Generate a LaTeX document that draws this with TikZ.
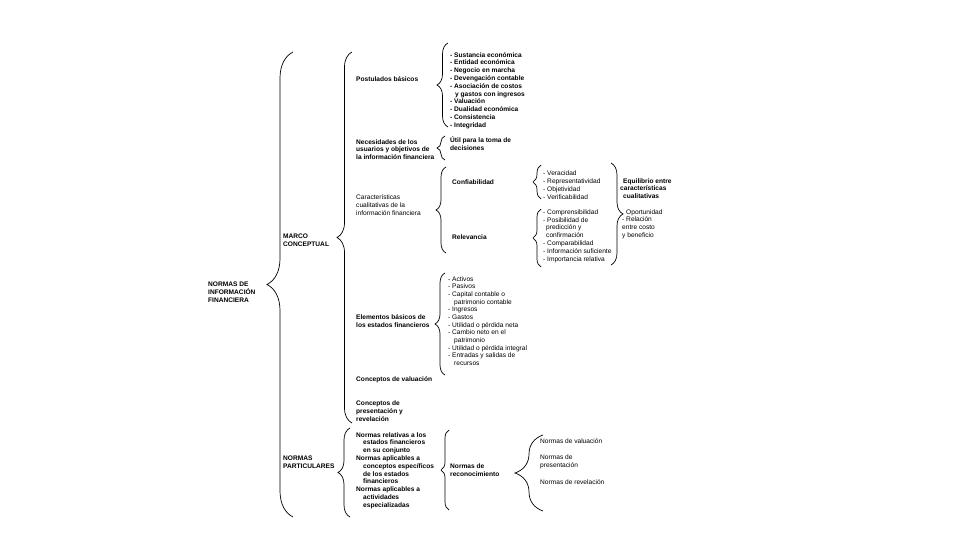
\documentclass[tikz,border=0pt]{standalone}
\usepackage{fontspec}
\setmainfont{Liberation Sans}
\usepackage{tikz}
\usetikzlibrary{decorations.pathreplacing}

\begin{document}
\begin{tikzpicture}[x=1pt,y=-1pt,
  txt/.style={inner sep=0pt,anchor=west,align=left,font=\fontsize{6.6}{7.8}\selectfont\bfseries},
  txtn/.style={txt,font=\fontsize{6.6}{7.8}\selectfont},
  brc/.style={decorate,decoration={brace,amplitude=#1},line width=.7pt}]
\fill[white](0,0)rectangle(960,540);
\useasboundingbox(0,0)rectangle(960,540);
% textos
\node[txt](nif) at (208,292){NORMAS DE\\INFORMACIÓN\\FINANCIERA};
\node[txt](marco) at (283,240.5){MARCO\\CONCEPTUAL};
\node[txt](partic) at (283,462){NORMAS\\PARTICULARES};
\node[txt](postul) at (356,79){Postulados básicos};
\node[txt](postitems) at (450,90.5){- Sustancia económica\\- Entidad económica\\- Negocio en marcha\\- Devengación contable\\- Asociación de costos\\\hspace*{5pt}y gastos con ingresos\\- Valuación\\- Dualidad económica\\- Consistencia\\- Integridad};
\node[txt](necesid) at (356,149.5){Necesidades de los\\usuarios y objetivos de\\la información financiera};
\node[txt](util) at (450,144){Útil para la toma de\\decisiones};
\node[txtn](caract) at (356,205){Características\\cualitativas de la\\información financiera};
\node[txt](confiab) at (452,182){Confiabilidad};
\node[txt](relev) at (452,237){Relevancia};
\node[txtn](confitems) at (543,185){- Veracidad\\- Representatividad\\- Objetividad\\- Verificabilidad};
\node[txtn](relevitems) at (543,236){- Comprensibilidad\\- Posibilidad de\\\hspace*{3pt}predicción y\\\hspace*{3pt}confirmación\\- Comparabilidad\\- Información suficiente\\- Importancia relativa};
\node[txt](equil) at (620,188.5){\hspace*{3pt}Equilibrio entre\\características\\\hspace*{3pt}cualitativas};
\node[txtn](oport) at (622,224){\hspace*{4pt}Oportunidad\\- Relación\\entre costo\\y beneficio};
\node[txt](elem) at (356,321){Elementos básicos de\\los estados financieros};
\node[txtn,font=\fontsize{6.6}{7.65}\selectfont](elemitems) at (448,321){- Activos\\- Pasivos\\- Capital contable o\\\hspace*{6pt}patrimonio contable\\- Ingresos\\- Gastos\\- Utilidad o pérdida neta\\- Cambio neto en el\\\hspace*{6pt}patrimonio\\- Utilidad o pérdida integral\\- Entradas y salidas de\\\hspace*{6pt}recursos};
\node[txt](valuac) at (356,380){Conceptos de valuación};
\node[txt](present) at (356,411){Conceptos de\\presentación y\\revelación};
\node[txt](npitems) at (356,470.5){Normas relativas a los\\\hspace*{7pt}estados financieros\\\hspace*{7pt}en su conjunto\\Normas aplicables a\\\hspace*{7pt}conceptos específicos\\\hspace*{7pt}de los estados\\\hspace*{7pt}financieros\\Normas aplicables a\\\hspace*{7pt}actividades\\\hspace*{7pt}especializadas};
\node[txt](reconoc) at (450,470){Normas de\\reconocimiento};
\node[txtn](nval) at (540,441){Normas de valuación};
\node[txtn](npres) at (540,462){Normas de\\presentación};
\node[txtn](nrev) at (540,482){Normas de revelación};
% llaves
\coordinate(b1a) at (293,517); \coordinate(b1b) at (293,52);
\coordinate(b2a) at (352,423); \coordinate(b2b) at (352,52);
\coordinate(b3a) at (350,517); \coordinate(b3b) at (350,428);
\coordinate(b4a) at (448,127); \coordinate(b4b) at (448,43);
\coordinate(b5a) at (445,160); \coordinate(b5b) at (445,136);
\coordinate(b6a) at (446,253); \coordinate(b6b) at (446,167);
\coordinate(b7a) at (541,199); \coordinate(b7b) at (541,165);
\coordinate(b8a) at (541,267); \coordinate(b8b) at (541,209);
\coordinate(b9a) at (611,163); \coordinate(b9b) at (611,265);
\coordinate(b10a) at (445,375); \coordinate(b10b) at (445,273);
\coordinate(b11a) at (449,510); \coordinate(b11b) at (449,430);
\coordinate(b12a) at (543,511); \coordinate(b12b) at (543,435);
\draw[brc=26pt](b1a)--(b1b);
\draw[brc=15pt](b2a)--(b2b);
\draw[brc=12pt](b3a)--(b3b);
\draw[brc=11pt](b4a)--(b4b);
\draw[brc=8pt](b5a)--(b5b);
\draw[brc=10pt](b6a)--(b6b);
\draw[brc=8pt](b7a)--(b7b);
\draw[brc=8pt](b8a)--(b8b);
\draw[brc=12pt](b9a)--(b9b);
\draw[brc=10pt](b10a)--(b10b);
\draw[brc=8pt](b11a)--(b11b);
\draw[brc=28pt](b12a)--(b12b);
\end{tikzpicture}
\end{document}
